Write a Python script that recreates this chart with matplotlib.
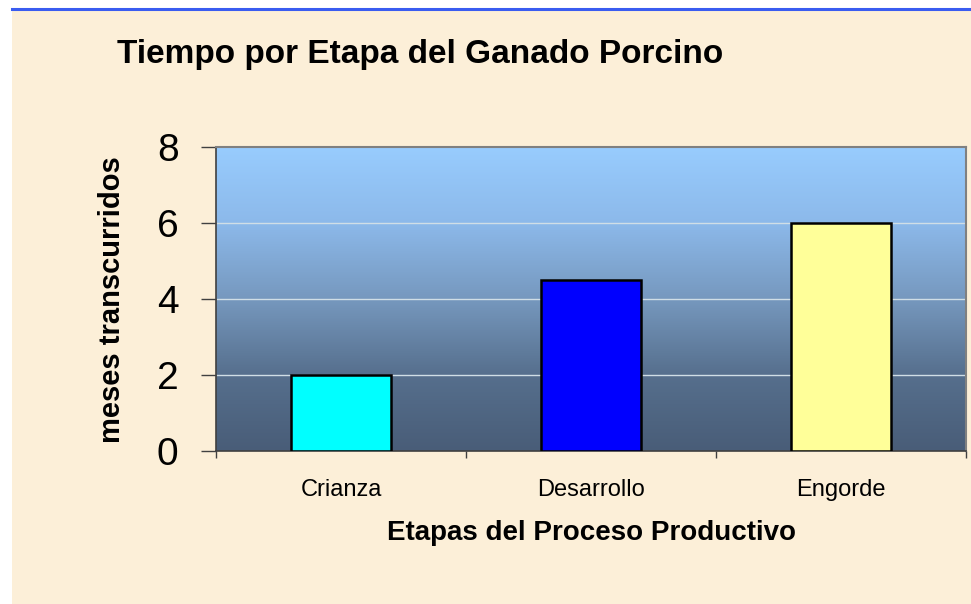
import matplotlib
matplotlib.use("Agg")
import matplotlib.pyplot as plt
import numpy as np
from matplotlib.patches import Rectangle
from matplotlib.lines import Line2D
from matplotlib.colors import LinearSegmentedColormap

categories = ["Crianza", "Desarrollo", "Engorde"]
values = [2, 4.5, 6]
bar_colors = ["#00FFFF", "#0000FF", "#FFFF99"]
yticks = [0, 2, 4, 6, 8]

plt.rcParams['font.family'] = ['Liberation Sans', 'DejaVu Sans']

W, H = 971, 604
fig = plt.figure(figsize=(W / 100, H / 100), dpi=100, facecolor="white")

# beige background panel
fig.add_artist(Rectangle((12 / W, 0), 1 - 12 / W, 1 - 10 / H, transform=fig.transFigure,
                         facecolor="#FCEFD8", edgecolor="none", zorder=-10))
fig.add_artist(Line2D([12 / W, 1], [1 - 9 / H, 1 - 9 / H], transform=fig.transFigure,
                      color="#3A5CF0", lw=2.2, zorder=5))

ax = fig.add_axes([216 / W, (H - 451) / H, 750 / W, 304 / H])
ax.set_xlim(-0.5, 2.5)
ax.set_ylim(0, 8)

# gradient plot area
cmap = LinearSegmentedColormap.from_list("grad", [
    (0.0, (73 / 255, 93 / 255, 120 / 255)),
    (0.25, (86 / 255, 111 / 255, 141 / 255)),
    (0.5, (118 / 255, 152 / 255, 190 / 255)),
    (0.75, (140 / 255, 185 / 255, 234 / 255)),
    (1.0, (152 / 255, 204 / 255, 254 / 255)),
])
grad = np.linspace(0, 1, 256).reshape(-1, 1)
ax.imshow(grad, cmap=cmap, origin="lower", extent=[-0.5, 2.5, 0, 8], aspect="auto", zorder=0)

for y in yticks[1:-1]:
    ax.axhline(y, color="#D0DEE6", lw=1.0, zorder=1)

x = np.arange(len(categories))
ax.bar(x, values, width=0.4, color=bar_colors, edgecolor="black", linewidth=1.8, zorder=3)

ax.set_yticks(yticks)
ax.set_yticklabels([str(v) for v in yticks], fontsize=28)
ax.tick_params(axis="y", length=11, width=1, color="#404040", pad=16)

ax.set_xticks([-0.5, 0.5, 1.5, 2.5])
ax.set_xticklabels([])
ax.tick_params(axis="x", which="major", length=5, width=1, color="#404040")
ax.set_xticks(x, minor=True)
ax.set_xticklabels(categories, minor=True, fontsize=17)
ax.tick_params(axis="x", which="minor", length=0, pad=20)

for s in ["top", "right"]:
    ax.spines[s].set_color("#808080")
    ax.spines[s].set_linewidth(1.5)
for s in ["left", "bottom"]:
    ax.spines[s].set_color("#404040")
    ax.spines[s].set_linewidth(1.2)

ax.set_ylabel("meses transcurridos", fontsize=21, fontweight="bold")
ax.yaxis.set_label_coords(-(216 - 126) / 750, (451 - 300) / 304)
ax.set_xlabel("Etapas del Proceso Productivo", fontsize=20, fontweight="bold")
ax.xaxis.label.set_va("center")
ax.xaxis.set_label_coords((591 - 216) / 750, -(533 - 451) / 304)

fig.text(117 / W, 1 - 55 / H, "Tiempo por Etapa del Ganado Porcino", fontsize=24,
         fontweight="bold", ha="left", va="center")

fig.savefig("out.png", dpi=100, facecolor=fig.get_facecolor())
